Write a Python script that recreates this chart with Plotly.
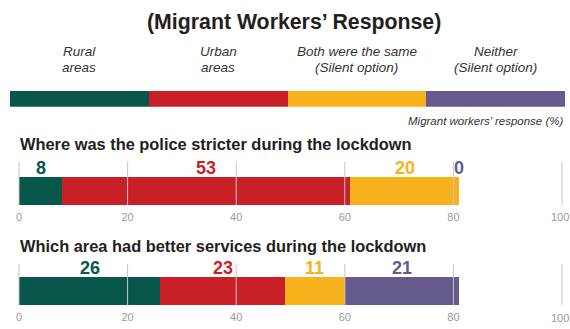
import plotly.graph_objects as go

# ---------------- data ----------------
categories = ["Rural areas", "Urban areas", "Both were the same (Silent option)", "Neither (Silent option)"]
legend_line1 = ["Rural", "Urban", "Both were the same", "Neither"]
legend_line2 = ["areas", "areas", "(Silent option)", "(Silent option)"]
colors = ["#07574a", "#c91f26", "#f7b21c", "#675a8e"]

police_stricter = [8, 53, 20, 0]
better_services = [26, 23, 11, 21]

tick_vals = [0, 20, 40, 60, 80, 100]

main_title = "(Migrant Workers\u2019 Response)"
title1 = "Where was the police stricter during the lockdown"
title2 = "Which area had better services during the lockdown"
unit_note = "Migrant workers\u2019 response (%)"

W, H = 570, 329
SANS = "Liberation Sans, Arial, sans-serif"
TICK_FONT = dict(family=SANS, size=11, color="#9a9a9a")


def py(px):
    return 1 - px / H


def pxx(px):
    return px / W


fig = go.Figure()

# legend key bar (one equal segment per category)
for i, c in enumerate(categories):
    fig.add_trace(go.Bar(x=[1], y=[0], orientation="h", width=1, marker=dict(color=colors[i], line=dict(width=0)),
                         xaxis="x3", yaxis="y3", showlegend=False, hoverinfo="skip"))

# two survey questions
for vals, xa, ya in [(police_stricter, "x", "y"), (better_services, "x2", "y2")]:
    for i, v in enumerate(vals):
        fig.add_trace(go.Bar(x=[v], y=[0], orientation="h", width=1, name=categories[i],
                             marker=dict(color=colors[i], line=dict(width=0)),
                             xaxis=xa, yaxis=ya, showlegend=False))

annotations = []
shapes = []

# main title
annotations.append(dict(text="<b>" + main_title + "</b>", x=pxx(294), y=py(22), xref="paper", yref="paper",
                        xanchor="center", yanchor="middle", showarrow=False,
                        font=dict(family=SANS, size=21.3, color="#231f20")))

# legend labels
for i in range(4):
    annotations.append(dict(text="<i>" + legend_line1[i] + "</i>", x=i + 0.5, y=py(51), xref="x3", yref="paper",
                            xanchor="center", yanchor="middle", showarrow=False,
                            font=dict(family=SANS, size=13.5, color="#333333")))
    annotations.append(dict(text="<i>" + legend_line2[i] + "</i>", x=i + 0.5, y=py(67.5), xref="x3", yref="paper",
                            xanchor="center", yanchor="middle", showarrow=False,
                            font=dict(family=SANS, size=13.5, color="#333333")))

annotations.append(dict(text="<i>" + unit_note + "</i>", x=pxx(565), y=py(121), xref="paper", yref="paper",
                        xanchor="right", yanchor="middle", showarrow=False,
                        font=dict(family=SANS, size=11.5, color="#333333")))

# section titles
for t, ypx in [(title1, 144), (title2, 246)]:
    annotations.append(dict(text="<b>" + t + "</b>", x=pxx(18), y=py(ypx), xref="paper", yref="paper",
                            xanchor="left", yanchor="middle", showarrow=False,
                            font=dict(family=SANS, size=16.4, color="#231f20")))

# value labels above segments + gridlines drawn over the bars
for vals, xa, ya, ylab, tick_y in [(police_stricter, "x", "y", 0.80, 216.5), (better_services, "x2", "y2", 0.80, 318)]:
    start = 0
    for i, v in enumerate(vals):
        annotations.append(dict(text="<b>" + str(v) + "</b>", x=start + v / 2, y=ylab, xref=xa, yref=ya,
                                xanchor="center", yanchor="middle", showarrow=False,
                                font=dict(family=SANS, size=18, color=colors[i])))
        start += v
    for tv in tick_vals:
        shapes.append(dict(type="line", xref=xa, yref=ya + " domain", x0=tv, x1=tv, y0=0, y1=1,
                           line=dict(color="#c8c8c8", width=1), layer="above"))
    # the last tick label sits at the page edge: draw it as an annotation nudged inside the page
    annotations.append(dict(text=str(tick_vals[-1]), x=tick_vals[-1], y=py(tick_y), xref=xa, yref="paper",
                            xanchor="center", yanchor="middle", xshift=-2, showarrow=False, font=TICK_FONT))

# axis: 0 -> px 19, 100 -> px 562; padded by 1 unit each side so edge gridlines are not clipped
unit = (562 - 19) / 100.0
xdom = [pxx(19 - unit), pxx(562 + unit)]
axis_common = dict(range=[-1, 101], tickvals=tick_vals[:-1], showgrid=False, zeroline=False, showline=False,
                   ticks="outside", ticklen=2, tickcolor="rgba(0,0,0,0)",
                   tickfont=TICK_FONT, fixedrange=True)

fig.update_layout(
    width=W, height=H, margin=dict(l=0, r=0, t=0, b=0),
    paper_bgcolor="white", plot_bgcolor="rgba(0,0,0,0)",
    barmode="stack", showlegend=False,
    xaxis=dict(domain=xdom, anchor="y", **axis_common),
    yaxis=dict(domain=[py(205), py(161.5)], range=[-0.5, 1.037], visible=False, fixedrange=True),
    xaxis2=dict(domain=xdom, anchor="y2", **axis_common),
    yaxis2=dict(domain=[py(305), py(264)], range=[-0.5, 0.949], visible=False, fixedrange=True),
    xaxis3=dict(domain=[pxx(10), pxx(565)], anchor="y3", range=[0, 4], visible=False, fixedrange=True),
    yaxis3=dict(domain=[py(106.7), py(91)], range=[-0.5, 0.5], visible=False, fixedrange=True),
    annotations=annotations, shapes=shapes,
)

fig.write_html(
    "out.html", config={"displayModeBar": False},
    post_script=(
        "document.documentElement.style.overflow='hidden';"
        "document.body.style.margin='0';document.body.style.padding='0';"
        "document.body.style.overflow='hidden';"
    ),
)
